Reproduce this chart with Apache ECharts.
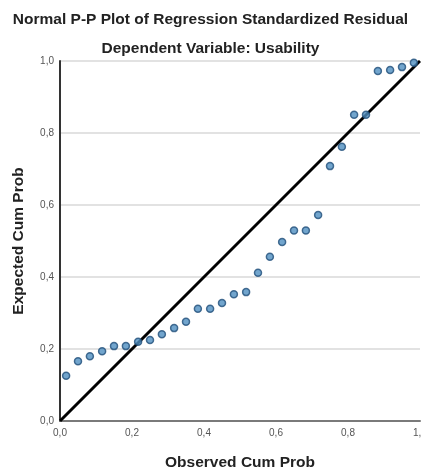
<!DOCTYPE html>
<html>
<head>
<meta charset="utf-8">
<script src="https://cdn.jsdelivr.net/npm/echarts@6/dist/echarts.min.js"></script>
<style>
    html, body { margin: 0; padding: 0; background: #fff; }
    #chart { width: 421px; height: 470px; }
</style>
</head>
<body>
<div id="chart"></div>
<script>
// observed cum prob (x) of each residual
var observed = [0.017, 0.050, 0.083, 0.117, 0.150, 0.183, 0.217, 0.250, 0.283, 0.317,
                0.350, 0.383, 0.417, 0.450, 0.483, 0.517, 0.550, 0.583, 0.617, 0.650,
                0.683, 0.717, 0.750, 0.783, 0.817, 0.850, 0.883, 0.917, 0.950, 0.983];
// expected cum prob (y)
var expected = [0.126, 0.166, 0.180, 0.194, 0.208, 0.208, 0.220, 0.225, 0.241, 0.258,
                0.276, 0.312, 0.312, 0.328, 0.352, 0.358, 0.412, 0.456, 0.497, 0.529,
                0.529, 0.572, 0.708, 0.762, 0.851, 0.851, 0.972, 0.975, 0.983, 0.995];
// 45 degree reference line
var refLine = [[0, 0], [1, 1]];
var tickLabels = ['0,0', '0,2', '0,4', '0,6', '0,8', '1,0'];

var points = observed.map(function (x, i) { return [x, expected[i]]; });

function fmt(v) {
    return tickLabels[Math.round(v / 0.2)];
}

var chart = echarts.init(document.getElementById('chart'));

var option = {
    animation: false,
    textStyle: { fontFamily: 'Liberation Sans, Arial, sans-serif' },
    title: [
        {
            text: 'Normal P-P Plot of Regression Standardized Residual',
            left: 'center',
            top: 7,
            textStyle: { fontSize: 15.5, fontWeight: 'bold', color: '#222' }
        },
        {
            text: 'Dependent Variable: Usability',
            left: 'center',
            top: 36,
            textStyle: { fontSize: 15.5, fontWeight: 'bold', color: '#222' }
        }
    ],
    grid: { left: 60, right: 1, top: 61, bottom: 49, outerBoundsMode: 'none' },
    xAxis: {
        type: 'value',
        min: 0,
        max: 1,
        interval: 0.2,
        name: 'Observed Cum Prob',
        nameLocation: 'middle',
        nameGap: 34,
        nameTextStyle: { fontSize: 15.5, fontWeight: 'bold', color: '#222' },
        axisLine: { lineStyle: { color: '#7a7a7a', width: 2 } },
        axisTick: { show: false },
        splitLine: { show: false },
        axisLabel: { formatter: fmt, color: '#555', fontSize: 10, margin: 7 }
    },
    yAxis: {
        type: 'value',
        min: 0,
        max: 1,
        interval: 0.2,
        name: 'Expected Cum Prob',
        nameLocation: 'middle',
        nameGap: 33,
        nameTextStyle: { fontSize: 15.5, fontWeight: 'bold', color: '#222' },
        axisLine: { show: true, lineStyle: { color: '#333', width: 2 } },
        axisTick: { show: false },
        splitLine: { lineStyle: { color: '#d9d9d9', width: 1.5 } },
        axisLabel: { formatter: fmt, color: '#555', fontSize: 10, margin: 6 }
    },
    series: [
        {
            type: 'line',
            data: refLine,
            symbol: 'none',
            lineStyle: { color: '#000', width: 3 },
            z: 2
        },
        {
            type: 'scatter',
            data: points,
            symbolSize: 7,
            itemStyle: { color: '#4f8fc0', borderColor: '#1f4e79', borderWidth: 1.5 },
            z: 3
        }
    ]
};

chart.setOption(option);
</script>
</body>
</html>
